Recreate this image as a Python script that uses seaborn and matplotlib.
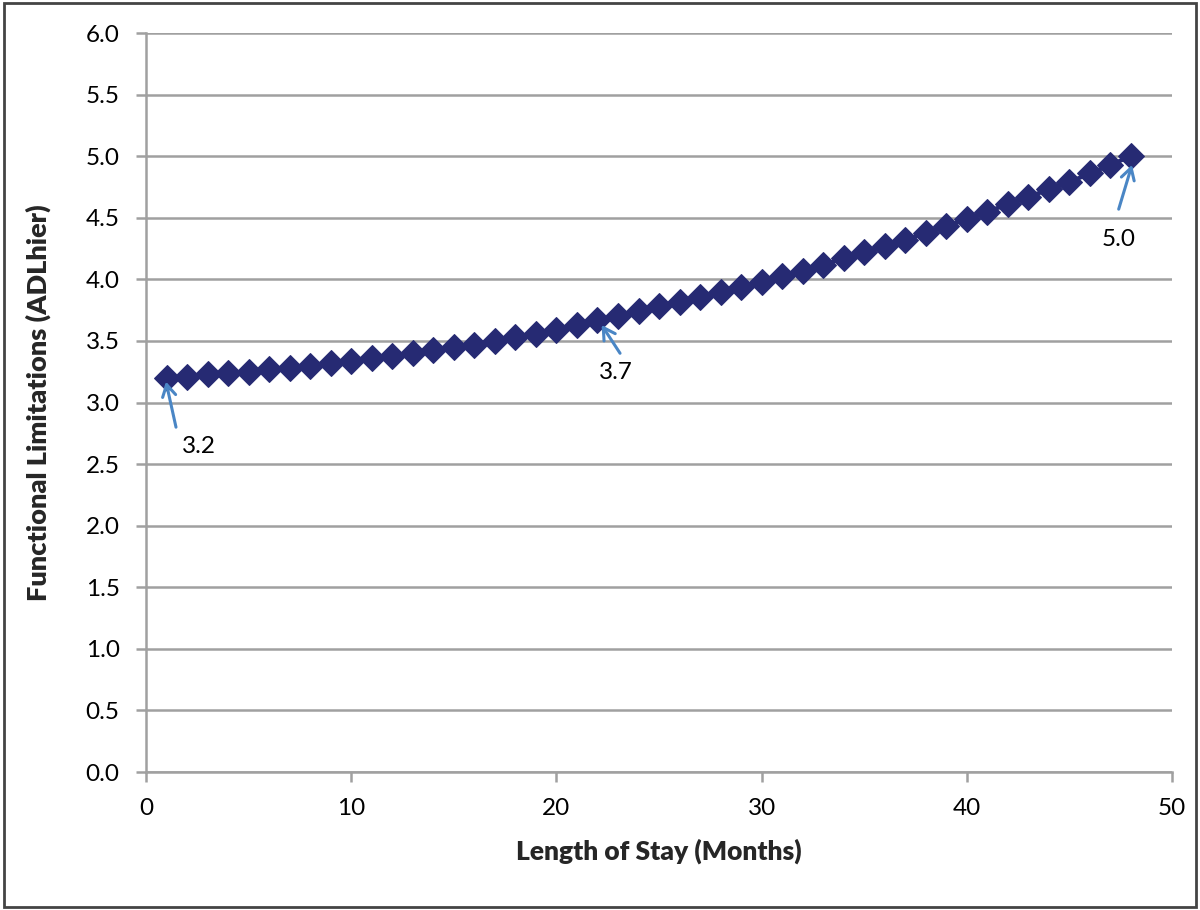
import matplotlib
matplotlib.use("Agg")
import matplotlib.pyplot as plt
import seaborn as sns
import pandas as pd
from matplotlib.patches import Rectangle

months = list(range(1, 49))
adl_values = [3.20, 3.21, 3.23, 3.24, 3.25, 3.27, 3.28, 3.30, 3.32, 3.34,
              3.36, 3.38, 3.40, 3.43, 3.45, 3.47, 3.50, 3.53, 3.56, 3.59,
              3.63, 3.67, 3.70, 3.74, 3.78, 3.82, 3.86, 3.90, 3.94, 3.98,
              4.03, 4.07, 4.12, 4.17, 4.22, 4.27, 4.32, 4.38, 4.43, 4.49,
              4.55, 4.61, 4.67, 4.73, 4.79, 4.86, 4.93, 5.00]
y_ticks = [0.0, 0.5, 1.0, 1.5, 2.0, 2.5, 3.0, 3.5, 4.0, 4.5, 5.0, 5.5, 6.0]
x_ticks = [0, 10, 20, 30, 40, 50]
ann_labels = ["3.2", "3.7", "5.0"]
ann_heads = [(0.97, 3.17), (22.2, 3.63), (48.05, 4.93)]
ann_tails = [(1.46, 2.80), (23.1, 3.40), (47.4, 4.57)]
ann_text = [(2.58, 2.64), (22.9, 3.24), (47.4, 4.32)]

sns.set_theme(style="white")
plt.rcParams['font.family'] = ['Lato', 'DejaVu Sans']

df = pd.DataFrame({"month": months, "adl": adl_values})

fig = plt.figure(figsize=(12, 9.1), dpi=100)
ax = fig.add_axes([0.1217, 0.1516, 0.855, 0.8121])

navy = "#262A73"
sns.lineplot(data=df, x="month", y="adl", ax=ax, color=navy, linewidth=3,
             marker="D", markersize=13, markeredgecolor=navy,
             markerfacecolor=navy)

ax.set_xlim(0, 50)
ax.set_ylim(0, 6)
ax.set_yticks(y_ticks)
ax.set_yticklabels([f"{v:.1f}" for v in y_ticks])
ax.set_xticks(x_ticks)
ax.set_xticklabels([str(v) for v in x_ticks])
ax.yaxis.grid(True, color="#A0A0A0", linewidth=1.8)
ax.set_axisbelow(True)
for s in ["top", "right"]:
    ax.spines[s].set_visible(False)
for s in ["left", "bottom"]:
    ax.spines[s].set_color("#A0A0A0")
    ax.spines[s].set_linewidth(1.8)
ax.tick_params(axis="both", which="major", labelsize=17.5, colors="#A0A0A0",
               labelcolor="black", length=7, width=1.8, direction="out")
ax.tick_params(axis="y", pad=12)
ax.tick_params(axis="x", pad=12)
ax.tick_params(left=True, bottom=True)

ax.set_xlabel("Length of Stay (Months)", fontsize=19, fontweight="heavy",
              labelpad=14)
ax.set_ylabel("Functional Limitations (ADLhier)", fontsize=19.5,
              fontweight="heavy", labelpad=25)

arrow_color = "#4A86C5"
for lab, head, tail, tpos in zip(ann_labels, ann_heads, ann_tails, ann_text):
    ax.annotate("", xy=head, xytext=tail,
                arrowprops=dict(arrowstyle="->,head_length=0.7,head_width=0.4",
                                color=arrow_color, lw=2.2,
                                shrinkA=0, shrinkB=0))
    ax.text(tpos[0], tpos[1], lab, ha="center", va="center", fontsize=17.5,
            color="black")

fig.patches.append(Rectangle((0.003, 0.003), 0.994, 0.994,
                             transform=fig.transFigure, fill=False,
                             edgecolor="#444444", linewidth=2))

fig.savefig("out.png", dpi=100)
